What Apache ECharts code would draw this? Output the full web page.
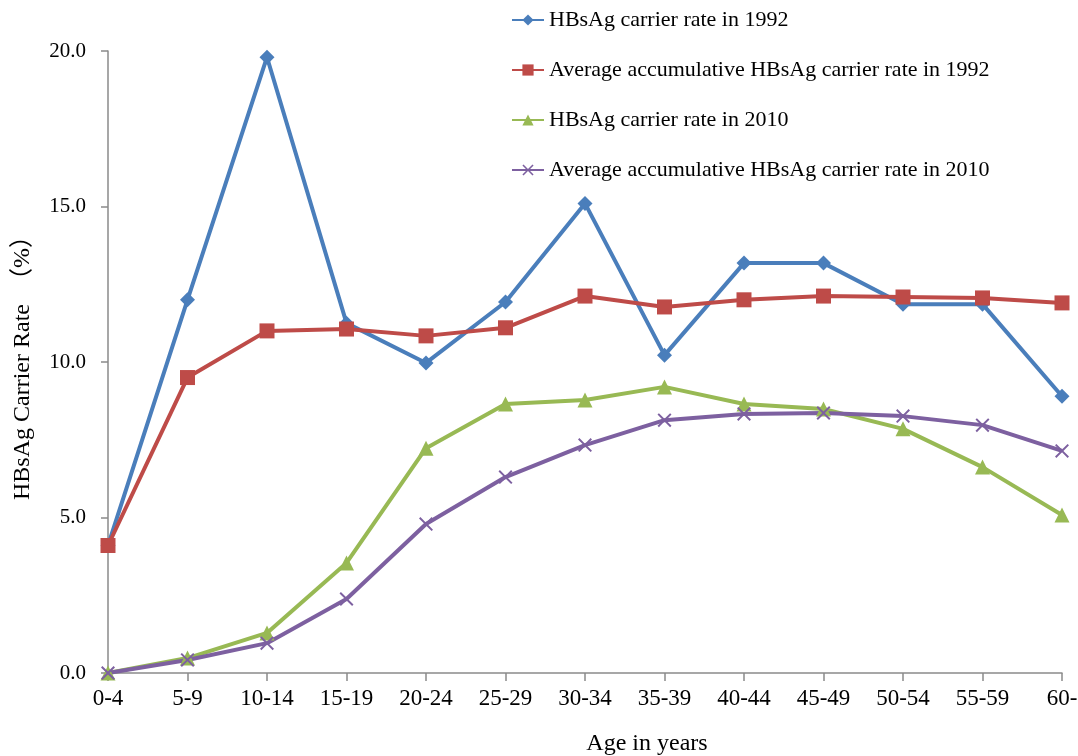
<!DOCTYPE html>
<html>
<head>
<meta charset="utf-8">
<script src="https://cdn.jsdelivr.net/npm/echarts@6/dist/echarts.min.js"></script>
<style>
html,body{margin:0;padding:0;background:#fff;}
#main{width:1078px;height:756px;}
</style>
</head>
<body>
<div id="main"></div>
<script>
// 年龄组
var ageGroups = ['0-4','5-9','10-14','15-19','20-24','25-29','30-34','35-39','40-44','45-49','50-54','55-59','60-'];
var seriesNames = [
	'HBsAg carrier rate in 1992',
	'Average accumulative HBsAg carrier rate in 1992',
	'HBsAg carrier rate in 2010',
	'Average accumulative HBsAg carrier rate in 2010'
];
var rate1992 = [4.1, 12.0, 19.8, 11.25, 9.97, 11.93, 15.1, 10.22, 13.18, 13.18, 11.86, 11.86, 8.9];
var avg1992 = [4.1, 9.5, 11.0, 11.06, 10.84, 11.1, 12.12, 11.77, 12.0, 12.12, 12.09, 12.06, 11.9];
var rate2010 = [0.0, 0.48, 1.29, 3.54, 7.23, 8.65, 8.78, 9.2, 8.65, 8.49, 7.85, 6.62, 5.08];
var avg2010 = [0.0, 0.42, 0.96, 2.38, 4.79, 6.3, 7.33, 8.13, 8.33, 8.36, 8.26, 7.97, 7.14];

var serif = '"Liberation Serif","DejaVu Serif","Noto Sans CJK SC",serif';
var xMark = 'path://M0,1L1,0L5,4L9,0L10,1L6,5L10,9L9,10L5,6L1,10L0,9L4,5Z';

function line(name, data, color, symbol, size) {
	return {
		name: name,
		type: 'line',
		data: data,
		symbol: symbol,
		symbolSize: size,
		showAllSymbol: true,
		itemStyle: {color: color},
		lineStyle: {color: color, width: 4},
		emphasis: {disabled: true}
	};
}

var myChart = echarts.init(document.getElementById('main'));
var option = {
	animation: false,
	backgroundColor: '#fff',
	grid: {left: 108, right: 16, top: 51, bottom: 83, containLabel: false, outerBoundsMode: 'none'},
	legend: {
		orient: 'vertical',
		left: 506,
		top: 4,
		itemWidth: 32,
		itemHeight: 14,
		itemGap: 28,
		textStyle: {fontFamily: serif, fontSize: 22, color: '#000'},
		data: seriesNames
	},
	xAxis: {
		type: 'category',
		data: ageGroups,
		boundaryGap: false,
		name: 'Age in years',
		nameLocation: 'middle',
		nameGap: 59,
		nameTextStyle: {fontFamily: serif, fontSize: 24, color: '#000', padding: [0, 0, 0, 124]},
		axisLine: {lineStyle: {color: '#8a8a8a', width: 1.5}},
		axisTick: {alignWithLabel: true, length: 8, lineStyle: {color: '#8a8a8a', width: 1.5}},
		axisLabel: {fontFamily: serif, fontSize: 23, color: '#000', margin: 14, interval: 0},
		splitLine: {show: false}
	},
	yAxis: {
		type: 'value',
		min: 0,
		max: 20,
		interval: 5,
		name: 'HBsAg Carrier Rate\u3000（%）',
		nameLocation: 'middle',
		nameGap: 73,
		nameRotate: 90,
		nameTextStyle: {fontFamily: serif, fontSize: 24, color: '#000'},
		axisLine: {show: true, lineStyle: {color: '#8a8a8a', width: 1.5}},
		axisTick: {show: true, length: 7, lineStyle: {color: '#8a8a8a', width: 1.5}},
		axisLabel: {
			fontFamily: serif, fontSize: 21, color: '#000', margin: 22,
			formatter: function(v) { return v.toFixed(1); }
		},
		splitLine: {show: false}
	},
	series: [
		line(seriesNames[0], rate1992, '#4a7ebb', 'diamond', 15),
		line(seriesNames[1], avg1992, '#be4b48', 'rect', 15),
		line(seriesNames[2], rate2010, '#98b954', 'triangle', 15),
		line(seriesNames[3], avg2010, '#7d60a0', xMark, 14)
	]
};
myChart.setOption(option);
</script>
</body>
</html>
